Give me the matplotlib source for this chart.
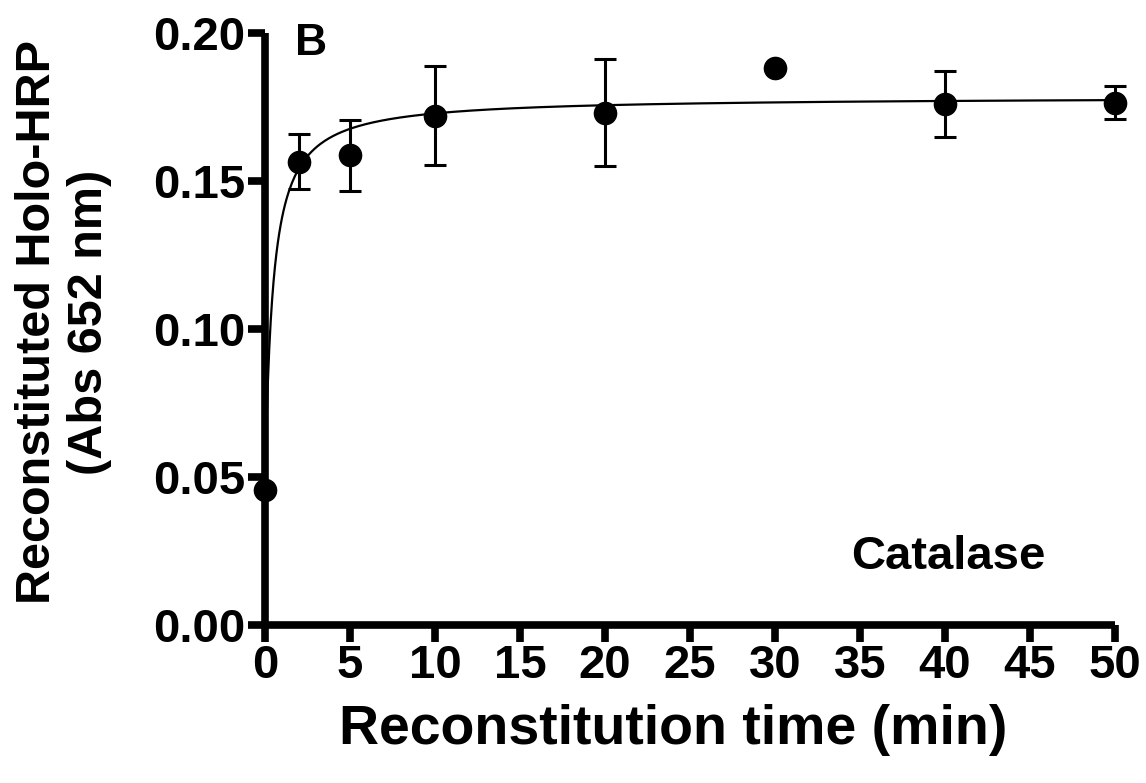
import numpy as np
import matplotlib
matplotlib.use('Agg')
import matplotlib.pyplot as plt

plt.rcParams['font.family'] = ['Liberation Sans', 'DejaVu Sans']
plt.rcParams['font.weight'] = 'bold'

# measured points (mean, SEM)
time_min = [0, 2, 5, 10, 20, 30, 40, 50]
abs_652 = [0.0455, 0.1565, 0.1587, 0.1721, 0.1731, 0.1881, 0.1760, 0.1765]
abs_err = [0, 0.0093, 0.0120, 0.0166, 0.0180, 0, 0.0112, 0.0055]

# fitted hyperbola: y0 + bmax * t / (kd + t)
fit_y0 = 0.0455
fit_bmax = 0.133
fit_kd = 0.445

x_ticks = [0, 5, 10, 15, 20, 25, 30, 35, 40, 45, 50]
y_ticks = [0.00, 0.05, 0.10, 0.15, 0.20]

fig = plt.figure(figsize=(11.46, 7.83), dpi=100)
ax = fig.add_axes([265 / 1146, 1 - 625 / 783, 850 / 1146, 592 / 783])

tt = np.linspace(0, 50, 600)
ax.plot(tt, fit_y0 + fit_bmax * tt / (fit_kd + tt), color='black', lw=1.6,
        clip_on=False, zorder=2)

ax.errorbar(time_min, abs_652, yerr=abs_err, fmt='o', color='black',
            markersize=16, elinewidth=2.2, capsize=8, capthick=2.2,
            clip_on=False, zorder=3)

ax.set_xlim(0, 50)
ax.set_ylim(0, 0.20)
ax.set_xticks(x_ticks)
ax.set_yticks(y_ticks)
ax.set_yticklabels(['%.2f' % v for v in y_ticks])

for side in ['top', 'right']:
    ax.spines[side].set_visible(False)
for side in ['left', 'bottom']:
    ax.spines[side].set_linewidth(5.5)
    ax.spines[side].set_capstyle('butt')

ax.tick_params(axis='both', which='major', length=12, width=5.5,
               direction='out', labelsize=34, pad=2)
for lab in ax.get_xticklabels() + ax.get_yticklabels():
    lab.set_fontweight('bold')

fig.text(64 / 1146, 1 - 322 / 783, 'Reconstituted Holo-HRP\n(Abs 652 nm)',
         rotation=90, ha='center', va='center', fontsize=35,
         fontweight='bold', linespacing=1.2)
fig.text(673 / 1146, 1 - 730 / 783, 'Reconstitution time (min)',
         ha='center', va='center', fontsize=40, fontweight='bold')

ax.text(0.035, 1.017, 'B', transform=ax.transAxes, ha='left', va='top',
        fontsize=32, fontweight='bold')
ax.text(948 / 1146, 1 - 557 / 783, 'Catalase', transform=fig.transFigure,
        ha='center', va='center', fontsize=34, fontweight='bold')

fig.savefig('out.png', dpi=100)
